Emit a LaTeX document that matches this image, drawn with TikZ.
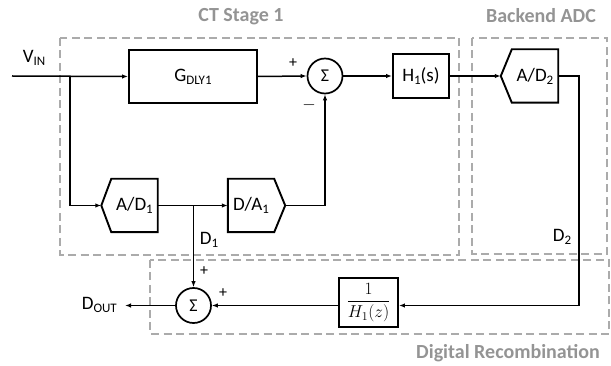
\documentclass[tikz,border=0pt]{standalone}
\usepackage{fontspec}
\setmainfont{Carlito}
\usepackage{amsmath}
\usetikzlibrary{arrows.meta,calc}
\newcommand{\lowsub}[1]{\raisebox{-3pt}{\fontsize{13}{13}\selectfont #1}}
\begin{document}
\begin{tikzpicture}[x=1pt,y=-1pt,
  wire/.style={line width=1.5pt},
  arr/.style={-{Latex[length=6pt,width=4.5pt]}},
  blk/.style={draw,line width=1.9pt,inner sep=0pt,font=\fontsize{19}{21}\selectfont},
  hexb/.style={inner sep=0pt,minimum width=46pt,minimum height=53pt,font=\fontsize{19}{21}\selectfont},
  hexline/.style={line width=1.9pt,line join=miter},
  sumc/.style={draw,circle,line width=1.7pt,inner sep=0pt,minimum size=35pt,font=\fontsize{18}{20}\selectfont},
  grp/.style={draw=black!33,line width=1.7pt,dash pattern=on 8pt off 4.5pt},
  grplbl/.style={text=black!42,font=\fontsize{20}{22}\selectfont\bfseries},
  lbl/.style={inner sep=0pt,font=\fontsize{19}{21}\selectfont},
  sgn/.style={inner sep=0pt,font=\fontsize{16}{18}\selectfont}
]
\useasboundingbox (0,0) rectangle (611,366);

% group boxes
\draw[grp] (60,38) rectangle (459,255);
\draw[grp] (472,38) rectangle (607,254);
\draw[grp] (150,260) rectangle (609,334);
\node[grplbl] (lct) at (241,17) {CT Stage 1};
\node[grplbl] (lbe) at (541,16) {Backend ADC};
\node[grplbl] (ldr) at (508,353) {Digital Recombination};

% blocks
\node[blk,minimum width=128pt,minimum height=53pt] (g) at (193,76.5) {G\lowsub{DLY1}};
\node[sumc] (sum1) at (325,76) {Σ};
\node[blk,minimum width=56pt,minimum height=44pt] (h1s) at (421,76) {H\lowsub{1}(s)};

\node[hexb] (ad2) at (535,76) {A/D\lowsub{2}};
\coordinate (ad2tip) at ($(ad2.west)+(-11,0)$);
\draw[hexline] (ad2.north west) -- (ad2.north east) -- (ad2.south east) -- (ad2.south west) -- (ad2tip) -- cycle;

\node[hexb] (ad1) at (134.5,205.5) {A/D\lowsub{1}};
\coordinate (ad1tip) at ($(ad1.west)+(-10,0)$);
\draw[hexline] (ad1.north west) -- (ad1.north east) -- (ad1.south east) -- (ad1.south west) -- (ad1tip) -- cycle;

\node[hexb] (da1) at (251,205.5) {D/A\lowsub{1}};
\coordinate (da1tip) at ($(da1.east)+(11,0)$);
\draw[hexline] (da1.north west) -- (da1.north east) -- (da1tip) -- (da1.south east) -- (da1.south west) -- cycle;

\node[blk,minimum width=59pt,minimum height=49pt,font=\fontsize{18}{20}\selectfont] (hz) at (368.5,302.5) {$\dfrac{1}{H_1(z)}$};
\node[sumc] (sum2) at (193.5,305.5) {Σ};

% coordinates
\coordinate (vin) at (12,76);
\coordinate (br) at (70,76);
\coordinate (c2) at (579,305.5);
\coordinate (d1tap) at (193.5,205.5);
\coordinate (dout) at (125,305.5);

% connectors
\draw[wire,arr] (vin) -- (g.west);
\draw[wire,arr] (br) |- (ad1tip);
\draw[wire,arr] (g.east) -- (sum1.west);
\draw[wire,arr] (sum1.east) -- (h1s.west);
\draw[wire,arr] (h1s.east) -- (ad2tip);
\draw[wire,arr] (ad1.east) -- (da1.west);
\draw[wire,arr] (da1tip) -| (sum1.south);
\draw[wire,arr] (ad2.east) -| (c2) -- (hz.east |- c2);
\draw[wire,arr] (d1tap) -- (sum2.north);
\draw[wire,arr] (hz.west |- sum2) -- (sum2.east);
\draw[wire,arr] (sum2.west) -- (dout);

% labels
\node[lbl] (lvin) at (34,58) {V\lowsub{IN}};
\node[sgn] (p1) at (293,63) {+};
\node[sgn] (m1) at (309,105) {$-$};
\node[lbl] (ld1) at (209,240) {D\lowsub{1}};
\node[lbl] (ld2) at (562,237) {D\lowsub{2}};
\node[lbl,anchor=east] (ldout) at (117,305) {D\lowsub{OUT}};
\node[sgn] (p2) at (204,271) {+};
\node[sgn] (p3) at (223,293) {+};
\end{tikzpicture}
\end{document}
